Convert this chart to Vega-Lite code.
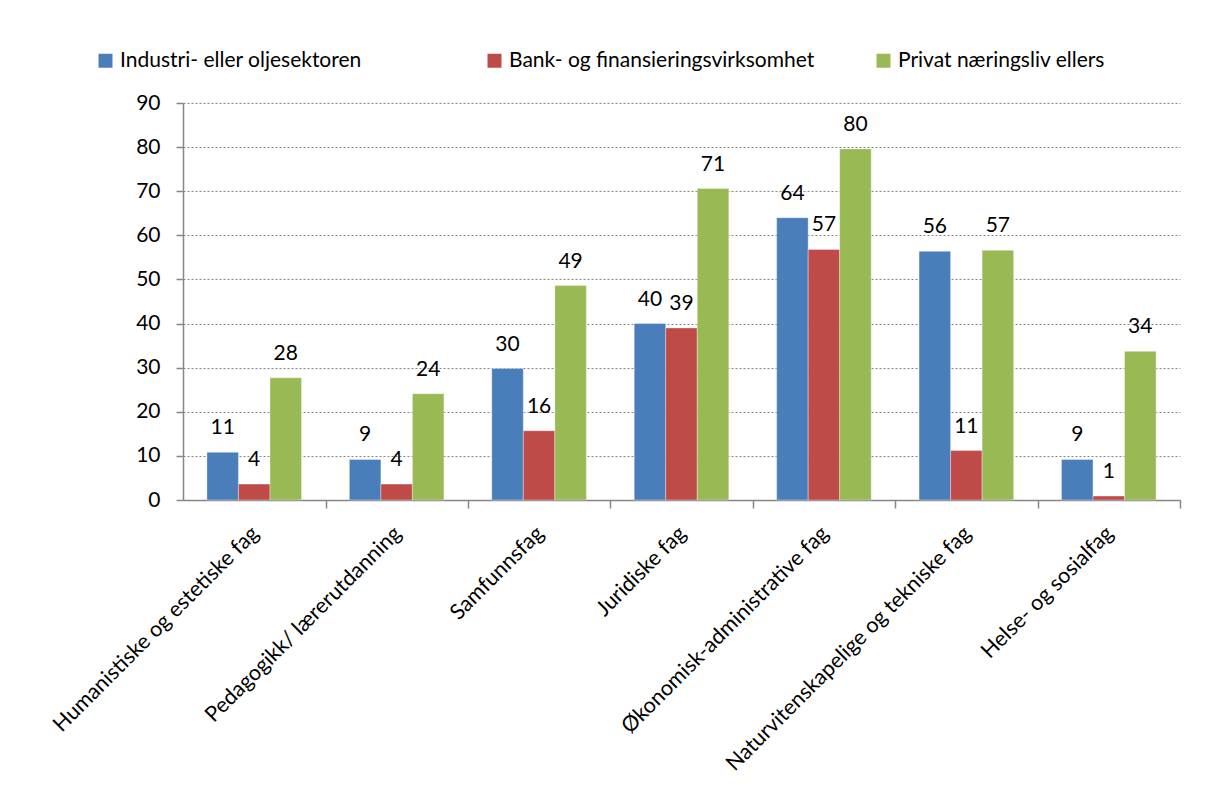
{
  "$schema": "https://vega.github.io/schema/vega-lite/v6.json",
  "width": 997,
  "height": 397,
  "autosize": {"type": "none"},
  "padding": {"left": 183, "top": 103, "right": 32, "bottom": 294},
  "background": "white",
  "data": {
    "values": [
      {"fag": "Humanistiske og estetiske fag", "sektor": "Industri- eller oljesektoren", "verdi": 10.8},
      {"fag": "Humanistiske og estetiske fag", "sektor": "Bank- og finansieringsvirksomhet", "verdi": 3.6},
      {"fag": "Humanistiske og estetiske fag", "sektor": "Privat næringsliv ellers", "verdi": 27.7},
      {"fag": "Pedagogikk/ lærerutdanning", "sektor": "Industri- eller oljesektoren", "verdi": 9.2},
      {"fag": "Pedagogikk/ lærerutdanning", "sektor": "Bank- og finansieringsvirksomhet", "verdi": 3.6},
      {"fag": "Pedagogikk/ lærerutdanning", "sektor": "Privat næringsliv ellers", "verdi": 24.1},
      {"fag": "Samfunnsfag", "sektor": "Industri- eller oljesektoren", "verdi": 29.8},
      {"fag": "Samfunnsfag", "sektor": "Bank- og finansieringsvirksomhet", "verdi": 15.7},
      {"fag": "Samfunnsfag", "sektor": "Privat næringsliv ellers", "verdi": 48.6},
      {"fag": "Juridiske fag", "sektor": "Industri- eller oljesektoren", "verdi": 40.0},
      {"fag": "Juridiske fag", "sektor": "Bank- og finansieringsvirksomhet", "verdi": 39.0},
      {"fag": "Juridiske fag", "sektor": "Privat næringsliv ellers", "verdi": 70.6},
      {"fag": "Økonomisk-administrative fag", "sektor": "Industri- eller oljesektoren", "verdi": 64.0},
      {"fag": "Økonomisk-administrative fag", "sektor": "Bank- og finansieringsvirksomhet", "verdi": 56.8},
      {"fag": "Økonomisk-administrative fag", "sektor": "Privat næringsliv ellers", "verdi": 79.6},
      {"fag": "Naturvitenskapelige og tekniske fag", "sektor": "Industri- eller oljesektoren", "verdi": 56.4},
      {"fag": "Naturvitenskapelige og tekniske fag", "sektor": "Bank- og finansieringsvirksomhet", "verdi": 11.2},
      {"fag": "Naturvitenskapelige og tekniske fag", "sektor": "Privat næringsliv ellers", "verdi": 56.6},
      {"fag": "Helse- og sosialfag", "sektor": "Industri- eller oljesektoren", "verdi": 9.2},
      {"fag": "Helse- og sosialfag", "sektor": "Bank- og finansieringsvirksomhet", "verdi": 0.9},
      {"fag": "Helse- og sosialfag", "sektor": "Privat næringsliv ellers", "verdi": 33.7}
    ]
  },
  "encoding": {
    "x": {
      "field": "fag",
      "type": "nominal",
      "sort": ["Humanistiske og estetiske fag", "Pedagogikk/ lærerutdanning", "Samfunnsfag", "Juridiske fag", "Økonomisk-administrative fag", "Naturvitenskapelige og tekniske fag", "Helse- og sosialfag"],
      "scale": {"paddingInner": 0.336, "paddingOuter": 0.168},
      "axis": {
        "title": null,
        "labelAngle": -45,
        "labelAlign": "right",
        "labelBaseline": "middle",
        "labelPadding": 22,
        "labelLimit": 600,
        "labelFont": "Lato",
        "labelFontSize": 21.5,
        "labelColor": "#000000",
        "domainColor": "#868686",
        "domainWidth": 1.5,
        "tickColor": "#868686",
        "tickWidth": 1.5,
        "tickSize": 8,
        "bandPosition": 1,
        "tickOffset": 24,
        "labelOffset": -23,
        "grid": false
      }
    },
    "xOffset": {
      "field": "sektor",
      "type": "nominal",
      "sort": ["Industri- eller oljesektoren", "Bank- og finansieringsvirksomhet", "Privat næringsliv ellers"],
      "scale": {"paddingInner": 0, "paddingOuter": 0}
    },
    "y": {
      "field": "verdi",
      "type": "quantitative",
      "scale": {"domain": [0, 90], "nice": false},
      "axis": {
        "title": null,
        "values": [0, 10, 20, 30, 40, 50, 60, 70, 80, 90],
        "labelFont": "Lato",
        "labelFontSize": 21,
        "labelColor": "#000000",
        "labelPadding": 16,
        "domainColor": "#868686",
        "domainWidth": 1.5,
        "tickColor": "#868686",
        "tickWidth": 1.5,
        "tickSize": 7,
        "grid": true,
        "gridColor": "#868686",
        "gridDash": [2, 2],
        "gridWidth": 1
      }
    }
  },
  "layer": [
    {
      "mark": {"type": "bar", "stroke": "#ffffff", "strokeOpacity": 0.35, "strokeWidth": 1},
      "encoding": {
        "color": {
          "field": "sektor",
          "type": "nominal",
          "sort": ["Industri- eller oljesektoren", "Bank- og finansieringsvirksomhet", "Privat næringsliv ellers"],
          "scale": {
            "domain": ["Industri- eller oljesektoren", "Bank- og finansieringsvirksomhet", "Privat næringsliv ellers"],
            "range": ["#4A7EBB", "#BE4B48", "#98B954"]
          },
          "legend": {
            "title": null,
            "orient": "none",
            "legendX": -88,
            "legendY": -53,
            "direction": "horizontal",
            "columns": 3,
            "gridAlign": "all",
            "columnPadding": 58,
            "symbolType": "square",
            "symbolSize": 196,
            "symbolStrokeWidth": 0,
            "labelFont": "Lato",
            "labelFontSize": 21,
            "labelColor": "#000000",
            "labelOffset": 4,
            "labelLimit": 600
          }
        }
      }
    },
    {
      "mark": {"type": "text", "baseline": "alphabetic", "dy": -18, "font": "Lato", "fontSize": 21, "color": "#000000"},
      "encoding": {
        "text": {"field": "verdi", "type": "quantitative", "format": ".0f"}
      }
    }
  ],
  "config": {
    "view": {"stroke": null}
  }
}
